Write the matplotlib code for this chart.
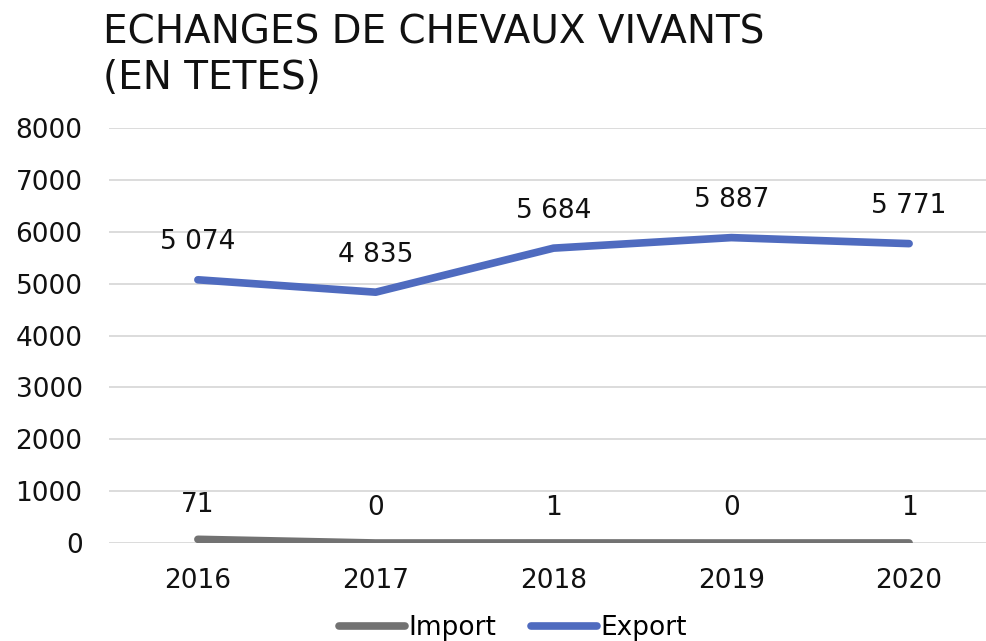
import matplotlib
matplotlib.use("Agg")
import matplotlib.pyplot as plt

# data
years = ["2016", "2017", "2018", "2019", "2020"]
import_vals = [71, 0, 1, 0, 1]
export_vals = [5074, 4835, 5684, 5887, 5771]
import_labels = ["71", "0", "1", "0", "1"]
export_labels = ["5 074", "4 835", "5 684", "5 887", "5 771"]

plt.rcParams['font.family'] = ['DejaVu Sans']

fig = plt.figure(figsize=(9.87, 6.41), dpi=100)
ax = fig.add_axes([109/987, 98/641, 889/987, 415/641])

x = list(range(len(years)))
ax.plot(x, import_vals, color="#727272", lw=5.5, solid_capstyle="round", label="Import", zorder=3)
ax.plot(x, export_vals, color="#4F6BBF", lw=5.5, solid_capstyle="round", label="Export", zorder=3)

for xi, v, t in zip(x, import_vals, import_labels):
    ax.annotate(t, (xi, v), xytext=(0, 25), textcoords="offset points",
                ha="center", va="center", fontsize=19, color="#111111")
for xi, v, t in zip(x, export_vals, export_labels):
    ax.annotate(t, (xi, v), xytext=(0, 27), textcoords="offset points",
                ha="center", va="center", fontsize=19, color="#111111")

ax.set_xlim(-0.5, len(years) - 0.5)
ax.set_ylim(0, 8000)
ax.set_yticks(range(0, 8001, 1000))
ax.set_yticklabels([str(v) for v in range(0, 8001, 1000)])
ax.set_xticks(x)
ax.set_xticklabels(years)
ax.tick_params(axis="both", length=0, labelsize=19, colors="#111111")
ax.tick_params(axis="y", pad=19)
ax.tick_params(axis="x", pad=18)
ax.grid(axis="y", color="#d9d9d9", lw=1.3)
ax.set_axisbelow(True)
for s in ax.spines.values():
    s.set_visible(False)

fig.text(103/987, 1 - 13/641, "ECHANGES DE CHEVAUX VIVANTS\n(EN TETES)",
         ha="left", va="top", fontsize=28, color="#111111", linespacing=1.25)

fig.legend(loc="center", bbox_to_anchor=(513/987, 1 - 628/641), ncol=2, frameon=False,
           fontsize=19, handlelength=2.5, handletextpad=0.15, columnspacing=1.3)

fig.savefig("out.png", dpi=100)
